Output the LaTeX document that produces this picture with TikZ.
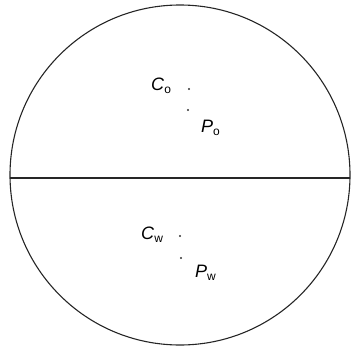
\documentclass[tikz,border=0pt]{standalone}
\usepackage{fontspec}
\setmainfont{Liberation Sans}
\usepackage{tikz}
\usetikzlibrary{positioning}
\newcommand{\phaselbl}[2]{\textit{#1}\raisebox{-3.5pt}{\fontsize{12}{12}\selectfont #2}}

\begin{document}
\begin{tikzpicture}[x=1pt,y=-1pt,
      lab/.style={inner sep=0pt,anchor=base west,font=\fontsize{18}{18}\selectfont},
      dot/.style={circle,fill=black!80,inner sep=0pt,minimum size=2.2pt},
      rim/.style={line width=1.1pt,black!85}]
    \useasboundingbox (0,0) rectangle (351,348);
    % drop outline and the interface between the two phases
    \coordinate (ctr) at (180,175);
    \draw[rim] (ctr) circle[radius=170];
    \coordinate (ifl) at (10,178);
    \coordinate (ifr) at (350,178);
    \draw[rim] (ifl) -- (ifr);
    % upper phase (o)
    \node[dot] (co) at (189,89) {};
    \node[dot] (po) at (188,110) {};
    \node[lab] (lco) at (151,90) {\phaselbl{C}{o}};
    \node[lab] (lpo) at (201,132) {\phaselbl{P}{o}};
    % lower phase (w)
    \node[dot] (cw) at (180,236) {};
    \node[dot] (pw) at (181,258) {};
    \node[lab] (lcw) at (141,239) {\phaselbl{C}{w}};
    \node[lab] (lpw) at (195,277) {\phaselbl{P}{w}};
  \end{tikzpicture}
\end{document}
